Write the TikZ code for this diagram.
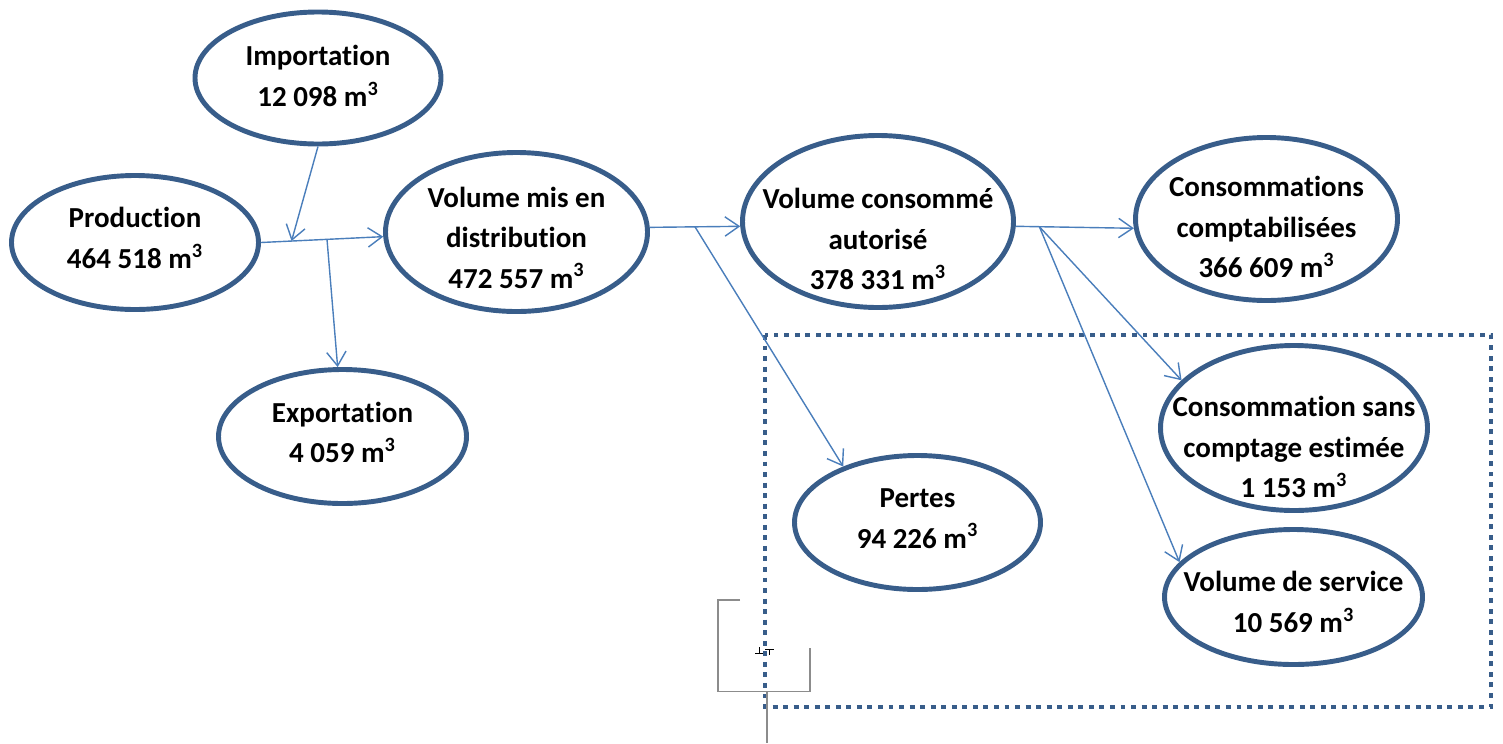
\documentclass[tikz,border=0pt]{standalone}
\usepackage{fontspec}
\setmainfont{Carlito}[Ligatures=NoCommon]
\usetikzlibrary{calc,shapes.geometric,arrows.meta}

\definecolor{rim}{HTML}{385D8A}
\definecolor{link}{HTML}{4A7EBB}
\definecolor{handle}{HTML}{8C8C8C}

\tikzset{
  bubble/.style={ellipse, draw=rim, line width=2.8pt, fill=white, inner sep=0pt},
  txt/.style={align=center, font=\bfseries\fontsize{16.5}{23}\selectfont},
  flow/.style={draw=link, line width=0.8pt, -{Straight Barb[length=8pt,width=11pt]}},
  zone/.style={draw=rim, line width=2.8pt, dash pattern=on 2.8pt off 3.2pt}
}

\begin{document}
\begin{tikzpicture}

\useasboundingbox (0,0) rectangle (30.06,-14.86);

% Dotted frame round the losses side
\draw[zone] (15.30,-6.70) rectangle (29.82,-14.14);

% Gray marks left of the frame
\draw[handle, line width=0.8pt] (14.80,-12.00) -- (14.36,-12.00) -- (14.36,-13.83) -- (16.20,-13.83) -- (16.20,-12.96);
\draw[handle, line width=0.8pt] (15.34,-13.83) -- (15.34,-14.86);
\draw[line width=0.5pt] (15.10,-13.06) -- (15.26,-13.06) (15.18,-12.94) -- (15.18,-13.06);
\draw[line width=0.5pt] (15.30,-12.98) -- (15.48,-12.98) (15.39,-12.98) -- (15.39,-13.10);

% Ellipses
\node[bubble, minimum width=4.92cm, minimum height=2.64cm] (imp) at (6.36,-1.56) {};
\node[bubble, minimum width=4.94cm, minimum height=2.68cm] (prod) at (2.70,-4.85) {};
\node[bubble, minimum width=5.24cm, minimum height=3.18cm] (dist) at (10.33,-4.64) {};
\node[bubble, minimum width=5.42cm, minimum height=3.44cm] (cons) at (17.56,-4.43) {};
\node[bubble, minimum width=5.24cm, minimum height=3.26cm] (compt) at (25.33,-4.38) {};
\node[bubble, minimum width=4.96cm, minimum height=2.68cm] (exp) at (6.85,-8.73) {};
\node[bubble, minimum width=4.92cm, minimum height=2.68cm] (pertes) at (18.35,-10.45) {};
\node[bubble, minimum width=5.34cm, minimum height=3.30cm] (sans) at (25.88,-8.56) {};
\node[bubble, minimum width=5.16cm, minimum height=2.70cm] (serv) at (25.87,-11.94) {};

% Texts
\node[txt] (imp-t) at ([yshift=0.04cm]imp.center) {Importation\\12 098 m\textsuperscript{3}};
\node[txt] (prod-t) at ([yshift=0.09cm]prod.center) {Production\\464 518 m\textsuperscript{3}};
\node[txt] (dist-t) at ([yshift=-0.11cm]dist.center) {Volume mis en\\distribution\\472 557 m\textsuperscript{3}};
\node[txt] (cons-t) at ([yshift=-0.35cm]cons.center) {Volume consommé\\autorisé\\378 331 m\textsuperscript{3}};
\node[txt] (compt-t) at ([yshift=-0.16cm]compt.center) {Consommations\\comptabilisées\\366 609 m\textsuperscript{3}};
\node[txt] (exp-t) at ([yshift=0.08cm]exp.center) {Exportation\\4 059 m\textsuperscript{3}};
\node[txt] (pertes-t) at ([yshift=0.08cm]pertes.center) {Pertes\\94 226 m\textsuperscript{3}};
\node[txt] (sans-t) at ([yshift=-0.38cm]sans.center) {Consommation sans\\comptage estimée\\1 153 m\textsuperscript{3}};
\node[txt] (serv-t) at ([yshift=-0.10cm]serv.center) {Volume de service\\10 569 m\textsuperscript{3}};

% Junctions on the main lines
\coordinate (jimp) at ($(prod.east)!0.25!(dist.182)$);
\coordinate (jexp) at ($(prod.east)!0.54!(dist.182)$);
\coordinate (jloss) at ($(dist.2)!0.5!(cons.182)$);
\coordinate (jcons) at ($(cons.-2)!0.2!(compt.184)$);

% Flows
\draw[flow] (prod.east) -- (dist.182);
\draw[flow] (imp.south) -- (jimp);
\draw[flow] (jexp) -- (exp.94);
\draw[flow] (dist.2) -- (cons.182);
\draw[flow] (jloss) -- (pertes.143);
\draw[flow] (cons.-2) -- (compt.184);
\draw[flow] (jcons) -- (sans.157);
\draw[flow] (jcons) -- (serv.163);

\end{tikzpicture}
\end{document}
